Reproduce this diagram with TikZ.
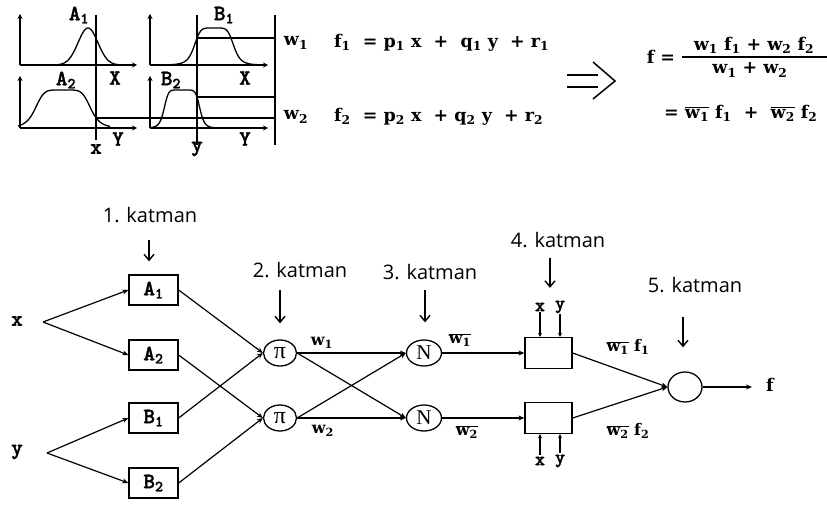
\documentclass[tikz,border=0pt]{standalone}
\usepackage{fontspec}
\setmainfont{DejaVu Serif}
\newfontfamily\layfont{Open Sans}
\newfontfamily\frmfont{DejaVu Serif}
\newfontfamily\coufont{lmmonolt10-bold.otf}[FakeBold=1.6]
\newfontfamily\nfont{Liberation Serif}
\usetikzlibrary{arrows.meta,shapes.geometric}
\newcommand\sbs[1]{\textsubscript{#1}}
\newcommand\ovlw[1]{$\overline{\mbox{#1}}$}
\tikzset{
  laytxt/.style={font=\layfont\fontsize{20}{20}\selectfont, inner sep=1pt},
  frmtxt/.style={font=\frmfont\bfseries\fontsize{16}{16}\selectfont, inner sep=1pt},
  bigfrm/.style={font=\frmfont\bfseries\fontsize{17.5}{17.5}\selectfont, inner sep=1pt},
  coutxt/.style={font=\coufont\fontsize{22}{22}\selectfont, inner sep=1pt},
  smcou/.style={font=\coufont\fontsize{19}{19}\selectfont, inner sep=1pt},
  pitxt/.style={font=\nfont\fontsize{24}{24}\selectfont},
  kbox/.style={draw, line width=1.3pt, minimum width=49pt, minimum height=30pt, inner sep=0pt},
  ell/.style={draw, ellipse, line width=1.3pt, minimum width=33pt, minimum height=26pt, inner sep=0pt},
  con/.style={line width=1.2pt, -{Stealth[length=6pt,width=5pt]}},
  smallarr/.style={line width=1.1pt, -{Stealth[length=4pt,width=4pt]}},
  layarr/.style={line width=1.4pt, -{Straight Barb[length=6pt,width=10pt]}},
  ax/.style={line width=1.3pt, -{Stealth[length=5pt,width=5pt]}},
  crv/.style={line width=1.3pt},
  thin/.style={line width=1.3pt},
}
\begin{document}
\begin{tikzpicture}[x=1pt,y=-1pt]
\fill[white] (0,0) rectangle (827,508);
\useasboundingbox (0,0) rectangle (827,508);
% ---------- membership plots ----------
\draw[ax] (20,65) -- (20,14);
\draw[ax] (20,65) -- (137,65);
\draw[ax] (20,128) -- (20,76);
\draw[ax] (20,128) -- (137,128);
\draw[ax] (150,65) -- (150,14);
\draw[ax] (150,65) -- (268,65);
\draw[ax] (150,128) -- (150,76);
\draw[ax] (150,128) -- (268,128);
\draw[crv] plot[domain=55:123,samples=80,smooth] (\x,{65-37*exp(-(pow((\x-88)/14,2)))});
\draw[crv] plot[domain=166:262,samples=90,smooth] (\x,{65-37/(1+pow(abs(\x-214)/20,6))});
\draw[crv] plot[domain=18:110,samples=90,smooth] (\x,{128-38/(1+pow(abs(\x-63)/28,6))});
\draw[crv] plot[domain=150:214,samples=80,smooth] (\x,{128-38/(1+pow(abs(\x-182)/18,8))});
\draw[thin] (96,15) -- (96,140);
\draw[thin] (197,15) -- (197,145);
\draw[thin] (275,15) -- (275,145);
\draw[thin] (197,38) -- (275,38);
\draw[thin] (197,97) -- (275,97);
\draw[thin] (96,118) -- (275,118);
\node[coutxt] (la1) at (79,15) {A\sbs{1}};
\node[coutxt] (lb1) at (224,15) {B\sbs{1}};
\node[coutxt] (la2) at (66,80) {A\sbs{2}};
\node[coutxt] (lb2) at (171,80) {B\sbs{2}};
\node[coutxt] (lx1) at (115,78) {X};
\node[coutxt] (lx2) at (245,78) {X};
\node[coutxt] (ly1) at (118,139) {Y};
\node[coutxt] (ly2) at (245,139) {Y};
\node[coutxt] (lxv) at (96,149) {x};
\node[coutxt] (lyv) at (197,149) {y};
% ---------- formulas ----------
\node[bigfrm] (w1t) at (296,43) {w\sbs{1}};
\node[bigfrm] (w2t) at (296,117) {w\sbs{2}};
\node[bigfrm,anchor=west] (eq1) at (333,43) {f\sbs{1}\ \ =\ p\sbs{1}\ x\ \ +\ \ q\sbs{1}\ y\ \ +\ r\sbs{1}};
\node[bigfrm,anchor=west] (eq2) at (333,117) {f\sbs{2}\ \ =\ p\sbs{2}\ x\ \ +\ q\sbs{2}\ y\ \ +\ r\sbs{2}};
\draw[line width=1.5pt] (567,75) -- (598,75);
\draw[line width=1.5pt] (567,87) -- (598,87);
\draw[line width=1.5pt] (593,62) -- (615,81) -- (593,99);
\node[bigfrm] (feq) at (661,57) {f =};
\node[bigfrm] (num) at (754,45) {w\sbs{1}\ f\sbs{1}\ + w\sbs{2}\ f\sbs{2}};
\draw[line width=1.4pt] (682,57) -- (827,57);
\node[bigfrm] (den) at (750,70) {w\sbs{1}\ + w\sbs{2}};
\node[bigfrm,anchor=west] (eq3) at (663,113) {=\ \ovlw{w\sbs{1}}\ f\sbs{1}\ \ +\ \ \ovlw{w\sbs{2}}\ f\sbs{2}};
% ---------- network ----------
\node[laytxt] (L1) at (150,215) {1. katman};
\node[laytxt] (L2) at (300,270) {2. katman};
\node[laytxt] (L3) at (430,272) {3. katman};
\node[laytxt] (L4) at (558,240) {4. katman};
\node[laytxt] (L5) at (695,285) {5. katman};
\coordinate (s1) at (149,240);
\coordinate (s2) at (280,290);
\coordinate (s3) at (425,290);
\coordinate (s4) at (550,258);
\coordinate (s5) at (683,317);

\node[kbox,coutxt] (A1) at (153.5,290) {A\sbs{1}};
\node[kbox,coutxt] (A2) at (153.5,355) {A\sbs{2}};
\node[kbox,coutxt] (B1) at (153.5,418) {B\sbs{1}};
\node[kbox,coutxt] (B2) at (153.5,483) {B\sbs{2}};

\node[ell,pitxt] (P1) at (280,353) {π};
\node[ell,pitxt] (P2) at (280,418) {π};
\node[ell,minimum width=35pt,font=\nfont\fontsize{21}{21}\selectfont] (N1) at (424,353) {N};
\node[ell,minimum width=35pt,font=\nfont\fontsize{21}{21}\selectfont] (N2) at (424,418) {N};
\node[kbox,minimum width=47pt,minimum height=31pt] (R1) at (548.5,353) {};
\node[kbox,minimum width=47pt,minimum height=31pt] (R2) at (548.5,418) {};
\node[ell,minimum width=34pt,minimum height=30pt] (S) at (685,387) {};

\node[coutxt] (xin) at (17,321) {x};
\node[coutxt] (yin) at (17,452) {y};
\coordinate (xb) at (43,322);
\coordinate (yb) at (47,453);
\coordinate (fo) at (752,387);
\node[bigfrm] (fout) at (770,385) {f};

\draw[con] (xb) -- (A1.west);
\draw[con] (xb) -- (A2.west);
\draw[con] (yb) -- (B1.west);
\draw[con] (yb) -- (B2.west);
\draw[con] (A1.east) -- (P1.west);
\draw[con] (A2.east) -- (P2.west);
\draw[con] (B1.east) -- (P1.west);
\draw[con] (B2.east) -- (P2.west);
\draw[con] (P1.east) -- (N1.west);
\draw[con] (P1.east) -- (N2.west);
\draw[con] (P2.east) -- (N1.west);
\draw[con] (P2.east) -- (N2.west);
\draw[con] (N1.east) -- (R1.west);
\draw[con] (N2.east) -- (R2.west);
\draw[con] (R1.east) -- (S.west);
\draw[con] (R2.east) -- (S.west);
\draw[con] (S.east) -- (fo);

\draw[layarr] (s1) -- ([yshift=13pt]A1.north -| s1);
\draw[layarr] (s2) -- ([yshift=16pt]P1.north);
\draw[layarr] (s3) -- ([yshift=17pt]N1.north -| s3);
\draw[layarr] (s4) -- ([yshift=49pt]R1.north -| s4);
\draw[layarr] (s5) -- ([yshift=24pt]S.north -| s5);

\node[smcou] (xt) at (540,307) {x};
\node[smcou] (yt) at (560,307) {y};
\node[smcou] (xbo) at (540,461) {x};
\node[smcou] (ybo) at (560,461) {y};
\draw[smallarr] (xt.south) -- (xt.south |- R1.north);
\draw[smallarr] (yt.south) -- (yt.south |- R1.north);
\draw[smallarr] ([yshift=1pt]xbo.north) -- (xbo.north |- R2.south);
\draw[smallarr] ([yshift=1pt]ybo.north) -- (ybo.north |- R2.south);

\node[frmtxt] (lw1) at (322,343) {w\sbs{1}};
\node[frmtxt] (lw2) at (323,431) {w\sbs{2}};
\node[frmtxt] (lwb1) at (460,340) {\ovlw{w\sbs{1}}};
\node[frmtxt] (lwb2) at (467,432) {\ovlw{w\sbs{2}}};
\node[frmtxt] (lf1) at (628,347) {\ovlw{w\sbs{1}}\ f\sbs{1}};
\node[frmtxt] (lf2) at (628,431) {\ovlw{w\sbs{2}}\ f\sbs{2}};
\end{tikzpicture}
\end{document}
